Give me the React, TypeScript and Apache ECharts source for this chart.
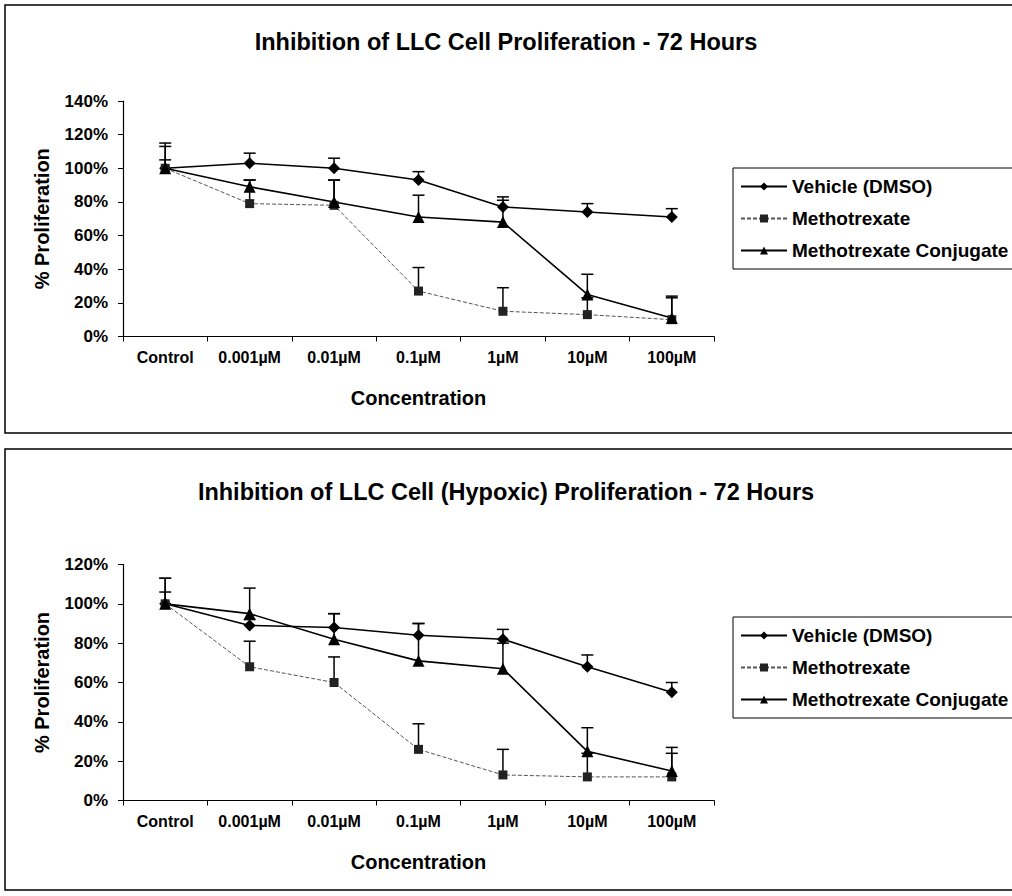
import React, { useEffect, useRef } from "react";
import * as echarts from "echarts";

// Concentration categories shared by both panels
const categories = ["Control", "0.001µM", "0.01µM", "0.1µM", "1µM", "10µM", "100µM"];

// Panel 1 – normoxic LLC cells (% proliferation, upper error)
const vehicleA = [100, 103, 100, 93, 77, 74, 71];
const vehicleAErr = [5, 6, 6, 5, 6, 5, 5];
const mtxA = [100, 79, 78, 27, 15, 13, 10];
const mtxAErr = [15, 14, 15, 14, 14, 10, 13];
const conjA = [100, 89, 80, 71, 68, 25, 11];
const conjAErr = [13, 4, 13, 13, 13, 12, 13];

// Panel 2 – hypoxic LLC cells
const vehicleB = [100, 89, 88, 84, 82, 68, 55];
const vehicleBErr = [6, 3, 7, 6, 5, 6, 5];
const mtxB = [100, 68, 60, 26, 13, 12, 12];
const mtxBErr = [13, 13, 13, 13, 13, 12, 12];
const conjB = [100, 95, 82, 71, 67, 25, 15];
const conjBErr = [13, 13, 13, 19, 13, 12, 12];

const titleA = "Inhibition of LLC Cell Proliferation - 72 Hours";
const titleB = "Inhibition of LLC Cell (Hypoxic) Proliferation - 72 Hours";
const seriesNames = ["Vehicle (DMSO)", "Methotrexate", "Methotrexate Conjugate"];
const yTicksA = { max: 140, interval: 20 };
const yTicksB = { max: 120, interval: 20 };

const FONT = "'Liberation Sans', Arial, Helvetica, sans-serif";

function errorBars(gridIdx: number, values: number[], errs: number[], color: string) {
  return {
    type: "custom",
    name: "err",
    xAxisIndex: gridIdx,
    yAxisIndex: gridIdx,
    z: 1,
    silent: true,
    data: values.map((v, i) => [i, v, errs[i]]),
    renderItem: (params: any, api: any) => {
      const i = api.value(0);
      const v = api.value(1);
      const e = api.value(2);
      const p0 = api.coord([i, v]);
      const p1 = api.coord([i, v + e]);
      const hw = 6;
      return {
        type: "group",
        children: [
          { type: "line", shape: { x1: p0[0], y1: p0[1], x2: p1[0], y2: p1[1] }, style: { stroke: color, lineWidth: 1.5 } },
          { type: "line", shape: { x1: p1[0] - hw, y1: p1[1], x2: p1[0] + hw, y2: p1[1] }, style: { stroke: color, lineWidth: 1.5 } },
        ],
      };
    },
  };
}

function lineSeries(gridIdx: number, name: string, data: number[], kind: number) {
  const base: any = {
    type: "line",
    name,
    xAxisIndex: gridIdx,
    yAxisIndex: gridIdx,
    data,
    z: 3,
    showAllSymbol: true,
  };
  if (kind === 0) {
    base.symbol = "diamond";
    base.symbolSize = 12;
    base.itemStyle = { color: "#000" };
    base.lineStyle = { color: "#000", width: 1.6 };
  } else if (kind === 1) {
    base.symbol = "rect";
    base.symbolSize = 9;
    base.itemStyle = { color: "#222" };
    base.lineStyle = { color: "#555", width: 1, type: [4, 2] };
  } else {
    base.symbol = "triangle";
    base.symbolSize = 12;
    base.itemStyle = { color: "#000" };
    base.lineStyle = { color: "#000", width: 1.6 };
  }
  return base;
}

function xAxis(gridIdx: number) {
  return {
    type: "category",
    gridIndex: gridIdx,
    data: categories,
    boundaryGap: true,
    axisLine: { lineStyle: { color: "#000", width: 1.2 } },
    axisTick: { show: true, interval: 0, length: 5, lineStyle: { color: "#000" } },
    axisLabel: { interval: 0, color: "#000", fontFamily: FONT, fontWeight: "bold", fontSize: 16, margin: 13 },
    name: "Concentration",
    nameLocation: "middle",
    nameGap: 51,
    nameTextStyle: { color: "#000", fontFamily: FONT, fontWeight: "bold", fontSize: 20 },
  };
}

function yAxis(gridIdx: number, ticks: { max: number; interval: number }) {
  return {
    type: "value",
    gridIndex: gridIdx,
    min: 0,
    max: ticks.max,
    interval: ticks.interval,
    axisLine: { show: true, lineStyle: { color: "#000", width: 1.2 } },
    axisTick: { show: true, length: 5, lineStyle: { color: "#000" } },
    splitLine: { show: false },
    axisLabel: { formatter: "{value}%", color: "#000", fontFamily: FONT, fontWeight: "bold", fontSize: 17, margin: 15 },
    name: "% Proliferation",
    nameLocation: "middle",
    nameGap: 71,
    nameTextStyle: { color: "#000", fontFamily: FONT, fontWeight: "bold", fontSize: 20 },
  };
}

function legend(top: number) {
  return {
    left: 733,
    top,
    orient: "vertical",
    data: seriesNames,
    itemWidth: 46,
    itemHeight: 10,
    itemGap: 13,
    padding: [9, 20, 9, 7],
    borderColor: "#000",
    borderWidth: 1,
    selectedMode: false,
    textStyle: { color: "#000", fontFamily: FONT, fontWeight: "bold", fontSize: 19 },
  };
}

export default function App() {
  const ref = useRef<HTMLDivElement>(null);

  useEffect(() => {
    if (!ref.current) return;
    const chart = echarts.init(ref.current, null, { renderer: "svg" });
    chart.setOption({
      animation: false,
      backgroundColor: "#fff",
      title: [
        { text: titleA, left: "center", top: 25, textStyle: { color: "#000", fontFamily: FONT, fontWeight: "bold", fontSize: 23.5 } },
        { text: titleB, left: "center", top: 475, textStyle: { color: "#000", fontFamily: FONT, fontWeight: "bold", fontSize: 23.5 } },
      ],
      legend: [legend(168), legend(617)],
      grid: [
        { left: 123, top: 101, width: 591, height: 235.5 },
        { left: 123, top: 564.5, width: 591, height: 236 },
      ],
      xAxis: [xAxis(0), xAxis(1)],
      yAxis: [yAxis(0, yTicksA), yAxis(1, yTicksB)],
      graphic: [
        { type: "rect", shape: { x: 5, y: 5, width: 1020, height: 428 }, style: { fill: "none", stroke: "#000", lineWidth: 1.5 }, z: 0 },
        { type: "rect", shape: { x: 5, y: 449, width: 1020, height: 441 }, style: { fill: "none", stroke: "#000", lineWidth: 1.5 }, z: 0 },
      ],
      series: [
        errorBars(0, vehicleA, vehicleAErr, "#000"),
        errorBars(0, mtxA, mtxAErr, "#000"),
        errorBars(0, conjA, conjAErr, "#000"),
        lineSeries(0, seriesNames[0], vehicleA, 0),
        lineSeries(0, seriesNames[1], mtxA, 1),
        lineSeries(0, seriesNames[2], conjA, 2),
        errorBars(1, vehicleB, vehicleBErr, "#000"),
        errorBars(1, mtxB, mtxBErr, "#000"),
        errorBars(1, conjB, conjBErr, "#000"),
        lineSeries(1, seriesNames[0], vehicleB, 0),
        lineSeries(1, seriesNames[1], mtxB, 1),
        lineSeries(1, seriesNames[2], conjB, 2),
      ],
    });
    return () => chart.dispose();
  }, []);

  return (
    <div
      ref={ref}
      style={{ position: "absolute", left: 0, top: 0, width: 1012, height: 896, background: "#fff" }}
    />
  );
}
